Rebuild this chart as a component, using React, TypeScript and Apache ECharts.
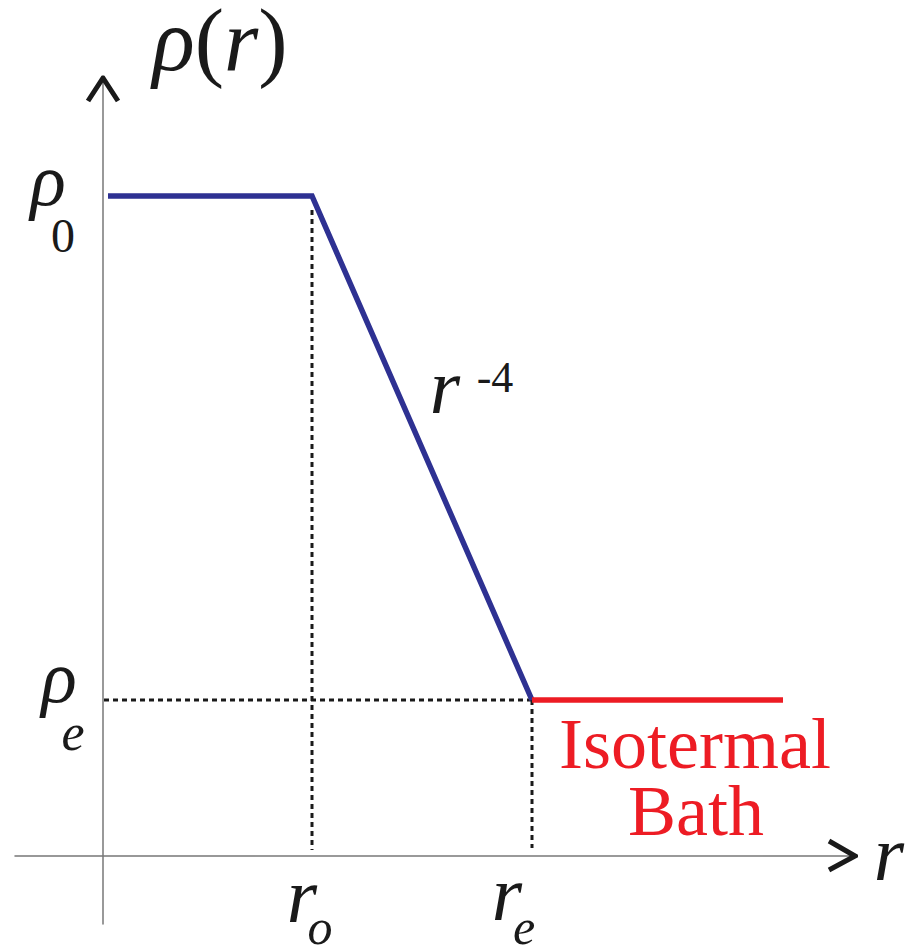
import React, { useEffect, useRef } from "react";
import * as echarts from "echarts";

// Schematic density profile rho(r): flat core, r^-4 fall-off, isothermal bath.
const rStart = 0.05;
const rCore = 2.09; // r_o
const rEdge = 4.29; // r_e
const rBathEnd = 6.8;
const rho0 = 6.6;
const rhoE = 1.56;

const xRange = [-0.88, 7.52];
const yRange = [-0.68, 7.78];

const coreProfile = [
  [rStart, rho0],
  [rCore, rho0],
  [rEdge, rhoE],
];
const bathProfile = [
  [rEdge, rhoE],
  [rBathEnd, rhoE],
];
const guideCore = [
  [rCore, 6.46],
  [rCore, 0.06],
];
const guideEdge = [
  [rEdge, rhoE],
  [rEdge, 0.08],
];
const guideRhoE = [
  [0.01, rhoE],
  [rEdge, rhoE],
];
const yArrow = [
  [-0.15, 7.55],
  [0, 7.78],
  [0.15, 7.55],
];
const xArrow = [
  [7.26, 0.15],
  [7.52, 0],
  [7.26, -0.14],
];

const BLUE = "#2e3192";
const RED = "#ed1c24";
const INK = "#1a1a1a";
const FONT = "Liberation Serif";

type Label = {
  anchor: number[];
  text: string;
  dx: number;
  base: number; // baseline offset from anchor, px
  size: number;
  italic?: boolean;
  color?: string;
};

const labels: Label[] = [
  { anchor: [0, rho0], text: "ρ", dx: -55, base: 9, size: 74, italic: true },
  { anchor: [0, rho0], text: "0", dx: -40, base: 56, size: 48 },
  { anchor: [0, rhoE], text: "ρ", dx: -44, base: 2, size: 74, italic: true },
  { anchor: [0, rhoE], text: "e", dx: -30, base: 50, size: 52, italic: true },
  { anchor: [rCore, 0], text: "r", dx: -10, base: 66, size: 78, italic: true },
  { anchor: [rCore, 0], text: "o", dx: 8, base: 88, size: 50, italic: true },
  { anchor: [rEdge, 0], text: "r", dx: -25, base: 64, size: 78, italic: true },
  { anchor: [rEdge, 0], text: "e", dx: -8, base: 88, size: 50, italic: true },
  { anchor: [xRange[1], 0], text: "r", dx: 34, base: 24, size: 78, italic: true },
  { anchor: [(rCore + rEdge) / 2, (rho0 + rhoE) / 2], text: "r", dx: 23, base: -35, size: 78, italic: true },
  { anchor: [(rCore + rEdge) / 2, (rho0 + rhoE) / 2], text: "-4", dx: 73, base: -56, size: 44 },
  { anchor: [rEdge, rhoE], text: "Isotermal", dx: 163, base: 68, size: 72, color: RED },
  { anchor: [rEdge, rhoE], text: "Bath", dx: 164, base: 135, size: 72, color: RED },
];

function lineSeries(data: number[][], color: string, width: number, type: any = "solid") {
  return {
    type: "line",
    data,
    symbol: "none",
    silent: true,
    lineStyle: { color, width, type, join: "miter", cap: "butt" },
  };
}

export default function App() {
  const ref = useRef<HTMLDivElement>(null);

  useEffect(() => {
    document.body.style.margin = "0";
    if (!ref.current) return;
    const chart = echarts.init(ref.current, null, { renderer: "svg" });

    const axisBase = {
      type: "value",
      axisLine: { show: true, onZero: true, lineStyle: { color: "#777777", width: 1.5 } },
      axisTick: { show: false },
      axisLabel: { show: false },
      splitLine: { show: false },
    };

    chart.setOption({
      animation: false,
      backgroundColor: "#ffffff",
      grid: { left: 15, top: 78, width: 840, height: 846 },
      xAxis: { ...axisBase, min: xRange[0], max: xRange[1] },
      yAxis: { ...axisBase, min: yRange[0], max: yRange[1] },
      series: [
        lineSeries(guideCore, INK, 3, [5, 4]),
        lineSeries(guideEdge, INK, 3, [5, 4]),
        lineSeries(guideRhoE, INK, 3, [5, 4]),
        lineSeries(coreProfile, BLUE, 5.5),
        lineSeries(bathProfile, RED, 5.5),
        lineSeries(yArrow, INK, 5),
        lineSeries(xArrow, INK, 5),
      ],
    });

    const graphic: any[] = labels.map((l) => {
      const p = chart.convertToPixel({ gridIndex: 0 }, l.anchor) as number[];
      return {
        type: "text",
        x: p[0] + l.dx,
        y: p[1] + l.base - 0.3375 * l.size,
        silent: true,
        style: {
          text: l.text,
          fontFamily: FONT,
          fontSize: l.size,
          fontStyle: l.italic ? "italic" : "normal",
          fill: l.color || INK,
          align: "center",
          verticalAlign: "middle",
        },
      };
    });

    // Axis title rho(r) above the vertical arrow
    const titleSize = 88;
    const top = chart.convertToPixel({ gridIndex: 0 }, [0, yRange[1]]) as number[];
    graphic.push({
      type: "text",
      x: top[0] + 117,
      y: top[1] - 8 - 0.3375 * titleSize,
      silent: true,
      style: {
        text: "{i|ρ}{u|(}{i|r}{u|)}",
        align: "center",
        verticalAlign: "middle",
        fill: INK,
        rich: {
          i: { fontFamily: FONT, fontSize: titleSize, fontStyle: "italic", fill: INK },
          u: { fontFamily: FONT, fontSize: titleSize, fill: INK },
        },
      },
    });

    chart.setOption({ graphic });

    return () => chart.dispose();
  }, []);

  return <div ref={ref} style={{ width: 907, height: 949 }} />;
}
